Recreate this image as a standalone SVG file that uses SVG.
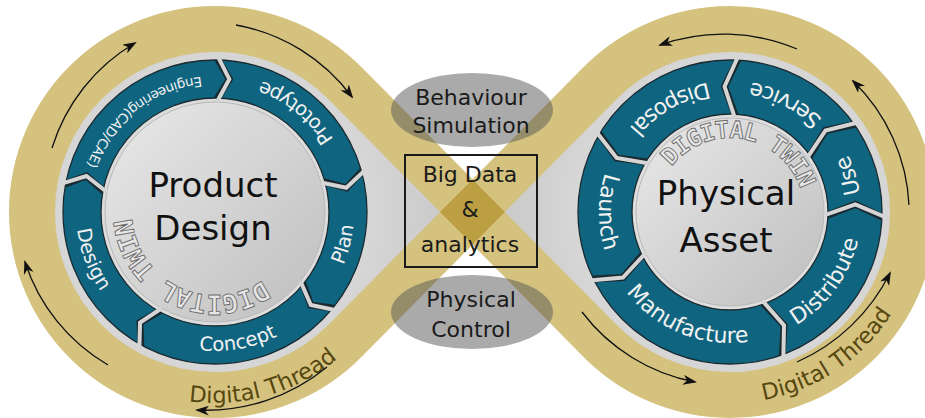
<svg xmlns="http://www.w3.org/2000/svg" width="925" height="418" viewBox="0 0 925 418">
<defs>
<style>
.teal{fill:#0f6580;stroke:#1b2a30;stroke-width:1.3}
.gapd{fill:none;stroke:#1b2a30;stroke-width:7;stroke-linejoin:miter}
.gapl{fill:none;stroke:#d5d5d5;stroke-width:4;stroke-linejoin:miter}
.seg{font-family:"DejaVu Sans",Verdana,sans-serif;fill:#f2f2f2}
.dt{font-family:"DejaVu Sans Mono",monospace;font-weight:bold;fill:#e6e6e6;stroke:#6c6c6c;stroke-width:0.9;letter-spacing:-1.2px}
.title{font-family:"DejaVu Sans",Verdana,sans-serif;font-size:34px;fill:#111;text-anchor:middle}
.mid{font-family:"DejaVu Sans",Verdana,sans-serif;font-size:22px;fill:#1a1a1a;text-anchor:middle}
.thread{font-family:"DejaVu Sans",Verdana,sans-serif;font-size:22.5px;fill:#56470f}
.arrow{fill:none;stroke:#111;stroke-width:1.3;marker-end:url(#ah)}
.ell{fill:#555;fill-opacity:0.5}
</style>
<radialGradient id="grayL" gradientUnits="userSpaceOnUse" cx="215" cy="212" r="260">
<stop offset="0" stop-color="#ebebeb"/><stop offset="0.6" stop-color="#d6d6d6"/><stop offset="1" stop-color="#c4c4c4"/>
</radialGradient>
<radialGradient id="grayR" gradientUnits="userSpaceOnUse" cx="730" cy="212" r="260">
<stop offset="0" stop-color="#ebebeb"/><stop offset="0.6" stop-color="#d6d6d6"/><stop offset="1" stop-color="#c4c4c4"/>
</radialGradient>
<linearGradient id="disk" x1="0" y1="0" x2="1" y2="1">
<stop offset="0" stop-color="#e9e9e9"/><stop offset="1" stop-color="#bebebe"/>
</linearGradient>
<marker id="ah" viewBox="0 0 14 10" refX="12" refY="5" markerWidth="14" markerHeight="10" orient="auto" markerUnits="userSpaceOnUse">
<path d="M0,0 L14,5 L0,10 L4,5 Z" fill="#111"/>
</marker>
<clipPath id="ringL"><path clip-rule="evenodd" d="M367,212 A152,152 0 1 0 63,212 A152,152 0 1 0 367,212 Z M329,212 A114,114 0 1 0 101,212 A114,114 0 1 0 329,212 Z"/></clipPath>
<clipPath id="ringR"><path clip-rule="evenodd" d="M882,212 A152,152 0 1 0 578,212 A152,152 0 1 0 882,212 Z M828,212 A98,98 0 1 0 632,212 A98,98 0 1 0 828,212 Z"/></clipPath>
<polyline id="chevLd" class="gapd" points="153,0 133,12 113,0"/>
<polyline id="chevLl" class="gapl" points="156,0 133,12 110,0"/>
<polyline id="chevRd" class="gapd" points="153,0 125,-12 97,0"/>
<polyline id="chevRl" class="gapl" points="156,0 125,-12 94,0"/>
<path id="aL" d="M89.35,106.47 A139,139 0 0 0 89.35,-106.47"/>
<path id="aE" d="M35.2,131.36 A136,136 0 0 0 35.2,-131.36"/>
<path id="aR" d="M84.21,100.35 A131,131 0 0 0 84.21,-100.35"/>
<path id="aT" d="M95.5,165.41 A191,191 0 0 0 95.5,-165.41"/>
<path id="dtL" d="M28.4,-78.05 A83,83 0 0 1 28.4,78.05"/>
<path id="dtR" d="M25.31,-69.53 A74,74 0 0 1 25.31,69.53"/>
</defs>

<g id="figure-eight">
<path d="M472.5,212 L345.3,83.5 A183,183 0 1 0 345.3,340.5 Z" fill="url(#grayL)"/>
<path d="M472.5,212 L599.7,83.5 A183,183 0 1 1 599.7,340.5 Z" fill="url(#grayR)"/>
<path d="M345.3,83.5 A183,183 0 1 0 345.3,340.5 L599.7,83.5 A183,183 0 1 1 599.7,340.5 Z" fill="none" stroke="#d5c27f" stroke-width="46"/>
<polygon points="440,212 472.5,179.5 505,212 472.5,244.5" fill="#bc9f42"/>
</g>

<g id="product-design">
<circle cx="215" cy="212" r="110" fill="url(#disk)" stroke="#b8b8b8" stroke-width="1"/>
<path class="teal" fill-rule="evenodd" d="M367,212 A152,152 0 1 0 63,212 A152,152 0 1 0 367,212 Z M329,212 A114,114 0 1 0 101,212 A114,114 0 1 0 329,212 Z"/>
<g clip-path="url(#ringL)"><g transform="translate(215,212)">
<use href="#chevLd" transform="rotate(-89)"/><use href="#chevLd" transform="rotate(-15.6)"/><use href="#chevLd" transform="rotate(39)"/><use href="#chevLd" transform="rotate(119)"/><use href="#chevLd" transform="rotate(190.5)"/>
</g></g>
<g transform="translate(215,212)">
<use href="#chevLl" transform="rotate(-89)"/><use href="#chevLl" transform="rotate(-15.6)"/><use href="#chevLl" transform="rotate(39)"/><use href="#chevLl" transform="rotate(119)"/><use href="#chevLl" transform="rotate(190.5)"/>
<text class="seg" font-size="19.5" transform="rotate(-51)"><textPath href="#aL" startOffset="50%" text-anchor="middle">Prototype</textPath></text>
<text class="seg" font-size="13.5" transform="rotate(-128)"><textPath href="#aE" startOffset="50%" text-anchor="middle">Engineering(CAD/CAE)</textPath></text>
<text class="seg" font-size="19.5" transform="rotate(159)"><textPath href="#aL" startOffset="50%" text-anchor="middle">Design</textPath></text>
<text class="seg" font-size="19.5" transform="rotate(80)"><textPath href="#aL" startOffset="50%" text-anchor="middle">Concept</textPath></text>
<text class="seg" font-size="19.5" transform="rotate(14)"><textPath href="#aL" startOffset="50%" text-anchor="middle">Plan</textPath></text>
<text class="dt" font-size="26" transform="rotate(115)"><textPath href="#dtL" startOffset="50%" text-anchor="middle">DIGITAL TWIN</textPath></text>
</g>
<text class="title" x="213" y="197">Product</text>
<text class="title" x="213" y="240">Design</text>
</g>

<g id="physical-asset">
<circle cx="730" cy="212" r="94" fill="url(#disk)" stroke="#b8b8b8" stroke-width="1"/>
<path class="teal" fill-rule="evenodd" d="M882,212 A152,152 0 1 0 578,212 A152,152 0 1 0 882,212 Z M828,212 A98,98 0 1 0 632,212 A98,98 0 1 0 828,212 Z"/>
<g clip-path="url(#ringR)"><g transform="translate(730,212)">
<use href="#chevRd" transform="rotate(-87)"/><use href="#chevRd" transform="rotate(-35)"/><use href="#chevRd" transform="rotate(2)"/><use href="#chevRd" transform="rotate(70)"/><use href="#chevRd" transform="rotate(154)"/><use href="#chevRd" transform="rotate(211)"/>
</g></g>
<g transform="translate(730,212)">
<use href="#chevRl" transform="rotate(-87)"/><use href="#chevRl" transform="rotate(-35)"/><use href="#chevRl" transform="rotate(2)"/><use href="#chevRl" transform="rotate(70)"/><use href="#chevRl" transform="rotate(154)"/><use href="#chevRl" transform="rotate(211)"/>
<text class="seg" font-size="22" transform="rotate(-120)"><textPath href="#aR" startOffset="50%" text-anchor="middle">Disposal</textPath></text>
<text class="seg" font-size="22" transform="rotate(-63)"><textPath href="#aR" startOffset="50%" text-anchor="middle">Service</textPath></text>
<text class="seg" font-size="22" transform="rotate(-17)"><textPath href="#aR" startOffset="50%" text-anchor="middle">Use</textPath></text>
<text class="seg" font-size="22" transform="rotate(36)"><textPath href="#aR" startOffset="50%" text-anchor="middle">Distribute</textPath></text>
<text class="seg" font-size="22" transform="rotate(112)"><textPath href="#aR" startOffset="50%" text-anchor="middle">Manufacture</textPath></text>
<text class="seg" font-size="22" transform="rotate(180)"><textPath href="#aR" startOffset="50%" text-anchor="middle">Launch</textPath></text>
<text class="dt" font-size="24" transform="rotate(-80.5)"><textPath href="#dtR" startOffset="50%" text-anchor="middle">DIGITAL TWIN</textPath></text>
</g>
<text class="title" x="726" y="205">Physical</text>
<text class="title" x="726" y="252">Asset</text>
</g>

<g id="digital-thread-left">
<text class="thread" transform="translate(215,212) rotate(74)"><textPath href="#aT" startOffset="50%" text-anchor="middle">Digital Thread</textPath></text>
</g>
<g id="digital-thread-right">
<text class="thread" transform="translate(730,212) rotate(56)"><textPath href="#aT" startOffset="50%" text-anchor="middle">Digital Thread</textPath></text>
</g>

<g id="behaviour-simulation">
<ellipse class="ell" cx="472" cy="110" rx="81" ry="37"/>
<text class="mid" x="471" y="105">Behaviour</text>
<text class="mid" x="471" y="133">Simulation</text>
</g>
<g id="physical-control">
<ellipse class="ell" cx="472" cy="312" rx="81" ry="37"/>
<text class="mid" x="471" y="307">Physical</text>
<text class="mid" x="471" y="337">Control</text>
</g>
<g id="big-data">
<rect x="405" y="155" width="132" height="112" fill="none" stroke="#1a1a1a" stroke-width="2"/>
<text class="mid" x="470" y="182">Big Data</text>
<text class="mid" x="470" y="217">&amp;</text>
<text class="mid" x="470" y="252">analytics</text>
</g>

<g id="connectors">
<path class="arrow" d="M52,148 A185,185 0 0 1 135,43"/>
<path class="arrow" d="M236,25 A185,185 0 0 1 352,97"/>
<path class="arrow" d="M108,365 A185,185 0 0 1 25,262"/>
<path class="arrow" d="M327,367 A190,190 0 0 1 197,410"/>
<path class="arrow" d="M797,49 A190,190 0 0 0 660,45"/>
<path class="arrow" d="M909,205 A185,185 0 0 0 853,81"/>
<path class="arrow" d="M582,312 A185,185 0 0 0 695,382"/>
<path class="arrow" d="M797,362 A190,190 0 0 0 890,273"/>
</g>
</svg>
